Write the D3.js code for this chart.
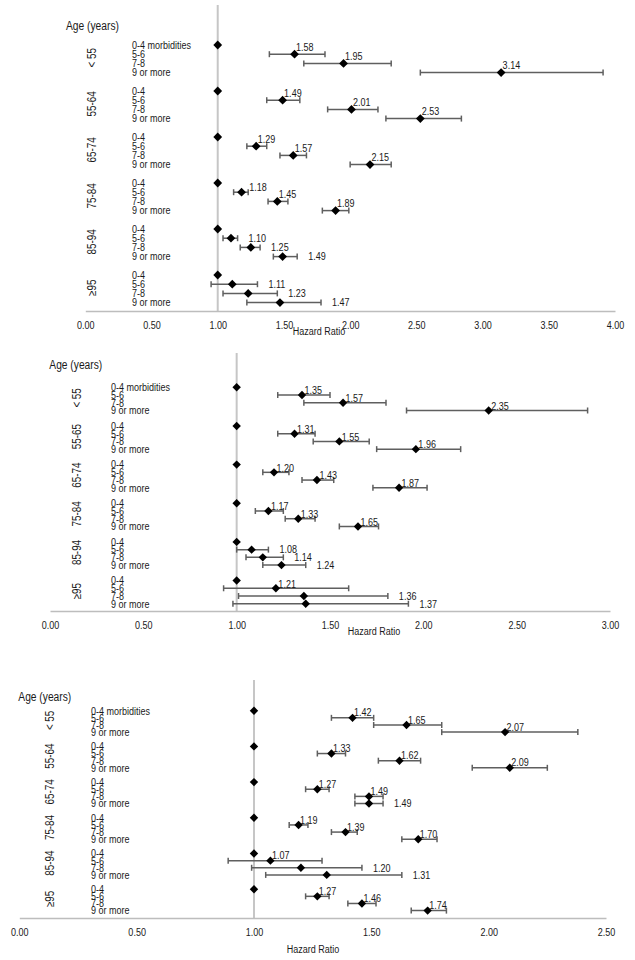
<!DOCTYPE html>
<html><head><meta charset="utf-8">
<script src="https://cdn.jsdelivr.net/npm/d3@7"></script>
<style>
body{margin:0;background:#fff;}
svg text{font-family:"Liberation Sans","Arial",sans-serif;fill:#1a1a1a;}
</style></head><body>
<svg id="c" width="635" height="960"></svg>
<script>
// ---------- data ----------
const rowLabelsFirstGroup = ["0-4 morbidities","5-6","7-8","9 or more"];
const rowLabels = ["0-4","5-6","7-8","9 or more"];
const ageGroupsA = ["< 55","55-64","65-74","75-84","85-94","≥95"];
const ageGroupsB = ["< 55","55-65","65-74","75-84","85-94","≥95"];
const ageGroupsC = ["< 55","55-64","65-74","75-84","85-94","≥95"];
const ticksA = [0,0.5,1,1.5,2,2.5,3,3.5,4];
const ticksB = [0,0.5,1,1.5,2,2.5,3];
const ticksC = [0,0.5,1,1.5,2,2.5];
const axisTitle = "Hazard Ratio";
const ageTitle = "Age (years)";

// hazard ratios (reference 0-4 = 1.00), lower and upper CI
const hrA = [[1,1.58,1.95,3.14],[1,1.49,2.01,2.53],[1,1.29,1.57,2.15],[1,1.18,1.45,1.89],[1,1.10,1.25,1.49],[1,1.11,1.23,1.47]];
const loA = [[null,1.39,1.65,2.53],[null,1.37,1.83,2.27],[null,1.22,1.47,2.00],[null,1.12,1.38,1.79],[null,1.04,1.17,1.42],[null,0.95,1.04,1.22]];
const hiA = [[null,1.81,2.31,3.91],[null,1.62,2.21,2.84],[null,1.37,1.67,2.31],[null,1.23,1.53,1.99],[null,1.15,1.32,1.60],[null,1.30,1.45,1.78]];

const hrB = [[1,1.35,1.57,2.35],[1,1.31,1.55,1.96],[1,1.20,1.43,1.87],[1,1.17,1.33,1.65],[1,1.08,1.14,1.24],[1,1.21,1.36,1.37]];
const loB = [[null,1.22,1.36,1.91],[null,1.22,1.41,1.75],[null,1.14,1.35,1.73],[null,1.10,1.26,1.55],[null,1.00,1.05,1.14],[null,0.93,1.01,0.98]];
const hiB = [[null,1.50,1.80,2.88],[null,1.42,1.71,2.20],[null,1.28,1.52,2.02],[null,1.25,1.42,1.76],[null,1.17,1.25,1.37],[null,1.60,1.81,1.92]];

const hrC = [[1,1.42,1.65,2.07],[1,1.33,1.62,2.09],[1,1.27,1.49,1.49],[1,1.19,1.39,1.70],[1,1.07,1.20,1.31],[1,1.27,1.46,1.74]];
const loC = [[null,1.33,1.51,1.80],[null,1.27,1.53,1.93],[null,1.22,1.43,1.43],[null,1.15,1.33,1.63],[null,0.89,0.99,1.05],[null,1.22,1.40,1.67]];
const hiC = [[null,1.51,1.80,2.38],[null,1.39,1.71,2.25],[null,1.32,1.55,1.55],[null,1.23,1.44,1.78],[null,1.29,1.46,1.63],[null,1.32,1.52,1.82]];

// ---------- label placement modes (a = above, r = right of CI, c = corner of CI) ----------
const modeA = [["a","a","a"],["a","a","a"],["a","a","a"],["c","a","a"],["r","r","r"],["r","r","r"]];
const modeB = [["a","a","a"],["a","a","a"],["a","a","a"],["a","a","a"],["r","r","r"],["a","r","r"]];
const modeC = [["a","a","a"],["a","a","a"],["a","a","r"],["a","a","a"],["a","r","r"],["a","a","a"]];

// ---------- layout ----------
const panels = [
  {hr:hrA, lo:loA, hi:hiA, groups:ageGroupsA, ticks:ticksA, modes:modeA,
   x0:85.3, x1:615, axisY:311, vTop:5, y0:45, slot:9.2, rowX:132, grpX:92, ageX:66, ageY:26,
   hX:319, hY:331, dyA:-7.2, dxA:1.5, diam:4.4},
  {hr:hrB, lo:loB, hi:hiB, groups:ageGroupsB, ticks:ticksB, modes:modeB,
   x0:50, x1:610, axisY:611, vTop:353, y0:387.3, slot:7.73, rowX:111, grpX:77, ageX:49.3, ageY:365,
   hX:374, hY:631, dyA:-4.6, dxA:2.5, diam:4.2},
  {hr:hrC, lo:loC, hi:hiC, groups:ageGroupsC, ticks:ticksC, modes:modeC,
   x0:19.3, x1:606, axisY:918, vTop:680, y0:710.7, slot:7.14, rowX:91, grpX:50, ageX:18.3, ageY:697,
   hX:313, hY:949.5, dyA:-5.3, dxA:1.5, diam:4.2}
];

const NARROW = 0.82;
const svg = d3.select("#c");
const fmt = d3.format(".2f");
const diamond = r => `M0,${-r}L${r},0L0,${r}L${-r},0Z`;

function txt(parent, x, y, str, size, anchor, rot) {
  return parent.append("text")
    .attr("transform", `translate(${x},${y})${rot ? " rotate(-90)" : ""} scale(${NARROW},1)`)
    .attr("dy", "0.35em").attr("font-size", size)
    .attr("text-anchor", anchor || "start").text(str);
}

panels.forEach(P => {
  const maxV = P.ticks[P.ticks.length-1];
  const x = d3.scaleLinear().domain([0, maxV]).range([P.x0, P.x1]);
  const nRows = P.groups.length * 5;
  const y = d3.scaleLinear().domain([0, nRows-1]).range([P.y0, P.y0 + (nRows-1)*P.slot]);
  const g = svg.append("g");

  // reference line at 1
  g.append("line").attr("x1", x(1)).attr("x2", x(1)).attr("y1", P.vTop).attr("y2", P.axisY)
    .attr("stroke", "#c6c6c6").attr("stroke-width", 2);

  // axis
  const ax = g.append("g").attr("transform", `translate(0,${P.axisY})`)
    .call(d3.axisBottom(x).tickValues(P.ticks).tickFormat(fmt).tickSize(0).tickSizeOuter(0));
  ax.select(".domain").attr("stroke", "#bdbdbd").attr("stroke-width", 1.5);
  ax.selectAll(".tick text").attr("y", 14).attr("dy", "0.35em")
    .attr("transform", `scale(${NARROW},1)`)
    .attr("font-size", 11).attr("font-family", null).attr("fill", "#1a1a1a");

  txt(g, P.hX, P.hY, axisTitle, 11, "middle");
  txt(g, P.ageX, P.ageY, ageTitle, 12.5);

  P.groups.forEach((grp, gi) => {
    const base = gi * 5;
    const cy = (y(base) + y(base + 3)) / 2;
    txt(g, P.grpX, cy - 1, grp, 12, "middle", true);

    const labels = gi === 0 ? rowLabelsFirstGroup : rowLabels;
    labels.forEach((lab, ri) => {
      const yy = y(base + ri);
      txt(g, P.rowX, yy, lab, 11);

      const v = P.hr[gi][ri], lo = P.lo[gi][ri], hi = P.hi[gi][ri];
      if (lo != null) {
        const eb = g.append("g").attr("stroke", "#5f5f5f").attr("stroke-width", 1.5);
        eb.append("line").attr("x1", x(lo)).attr("x2", x(hi)).attr("y1", yy).attr("y2", yy);
        eb.append("line").attr("x1", x(lo)).attr("x2", x(lo)).attr("y1", yy-3).attr("y2", yy+3);
        eb.append("line").attr("x1", x(hi)).attr("x2", x(hi)).attr("y1", yy-3).attr("y2", yy+3);
      }
      g.append("path").attr("d", diamond(P.diam)).attr("transform", `translate(${x(v)},${yy})`)
        .attr("fill", "#000");
      if (ri > 0) {
        const m = P.modes[gi][ri-1];
        let lx, ly;
        if (m === "a") { lx = x(v) + P.dxA; ly = yy + P.dyA; }
        else if (m === "r") { lx = x(hi) + 11; ly = yy; }
        else { lx = x(hi) + 1; ly = yy - 5; }
        txt(g, lx, ly, fmt(v), 11);
      }
    });
  });
});
</script>
</body></html>
